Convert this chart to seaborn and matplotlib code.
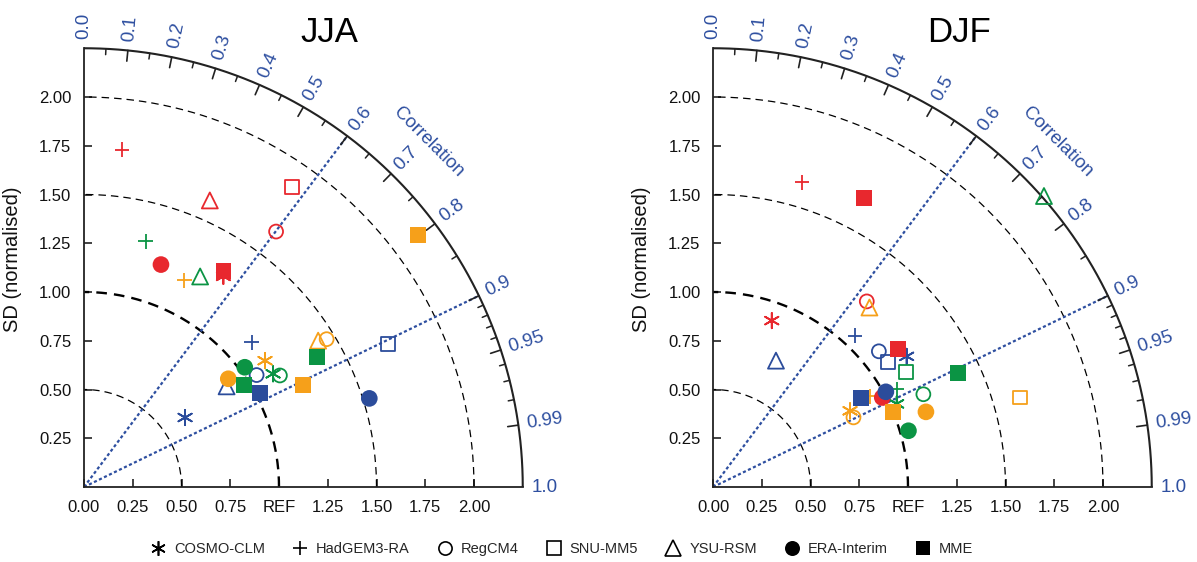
import numpy as np
import pandas as pd
import matplotlib
matplotlib.use("Agg")
import matplotlib.pyplot as plt
import seaborn as sns
from matplotlib.lines import Line2D

# ---------------- data ----------------
models = ["COSMO-CLM", "HadGEM3-RA", "RegCM4", "SNU-MM5", "YSU-RSM", "ERA-Interim", "MME"]
group_colors = {"red": "#E8282E", "green": "#0B9444", "blue": "#2B4C9B", "orange": "#F6A01A"}

# JJA panel: normalised SD and correlation of each marker
jja_model = ["HadGEM3-RA", "YSU-RSM", "SNU-MM5", "RegCM4", "ERA-Interim", "COSMO-CLM", "MME",
             "HadGEM3-RA", "YSU-RSM", "ERA-Interim", "COSMO-CLM", "RegCM4", "MME", "MME",
             "HadGEM3-RA", "MME", "COSMO-CLM", "ERA-Interim", "YSU-RSM", "RegCM4", "MME",
             "HadGEM3-RA", "RegCM4", "YSU-RSM", "MME", "SNU-MM5", "ERA-Interim", "COSMO-CLM"]
jja_group = ["red"] * 7 + ["green"] * 7 + ["orange"] * 7 + ["blue"] * 7
jja_sd = [1.741, 1.605, 1.872, 1.639, 1.207, 1.295, 1.320,
          1.299, 1.233, 1.028, 1.130, 1.156, 0.973, 1.368,
          1.179, 2.146, 1.132, 0.925, 1.416, 1.457, 1.237,
          1.136, 1.055, 0.895, 1.023, 1.724, 1.532, 0.629]
jja_corr = [0.112, 0.402, 0.569, 0.601, 0.327, 0.552, 0.542,
            0.243, 0.483, 0.802, 0.858, 0.869, 0.843, 0.874,
            0.437, 0.799, 0.820, 0.800, 0.848, 0.854, 0.906,
            0.757, 0.839, 0.817, 0.882, 0.905, 0.955, 0.824]

# DJF panel
djf_model = ["HadGEM3-RA", "MME", "RegCM4", "COSMO-CLM", "MME", "ERA-Interim",
             "YSU-RSM", "HadGEM3-RA", "MME", "ERA-Interim", "COSMO-CLM", "RegCM4", "SNU-MM5",
             "SNU-MM5", "MME", "HadGEM3-RA", "COSMO-CLM", "RegCM4", "ERA-Interim", "YSU-RSM",
             "HadGEM3-RA", "YSU-RSM", "RegCM4", "COSMO-CLM", "SNU-MM5", "ERA-Interim", "MME"]
djf_group = ["red"] * 6 + ["orange"] * 7 + ["green"] * 7 + ["blue"] * 7
djf_sd = [1.627, 1.673, 1.236, 0.905, 1.182, 0.982,
          1.221, 0.930, 0.999, 1.158, 0.804, 0.804, 1.640,
          1.151, 1.385, 1.068, 1.034, 1.179, 1.043, 2.260,
          1.064, 0.724, 1.099, 1.198, 1.103, 1.012, 0.885]
djf_corr = [0.280, 0.464, 0.638, 0.333, 0.801, 0.884,
            0.657, 0.866, 0.922, 0.943, 0.874, 0.896, 0.960,
            0.858, 0.906, 0.882, 0.911, 0.915, 0.961, 0.751,
            0.684, 0.446, 0.774, 0.829, 0.815, 0.876, 0.858]

panel_titles = ["JJA", "DJF"]
corr_major = [0.0, 0.1, 0.2, 0.3, 0.4, 0.5, 0.6, 0.7, 0.8, 0.9, 0.95, 0.99, 1.0]
corr_major_labels = ["0.0", "0.1", "0.2", "0.3", "0.4", "0.5", "0.6", "0.7", "0.8", "0.9", "0.95", "0.99", "1.0"]
corr_minor = [0.05, 0.15, 0.25, 0.35, 0.45, 0.55, 0.65, 0.75, 0.85, 0.91, 0.92, 0.93, 0.94, 0.96, 0.97, 0.98]
corr_lines = [0.6, 0.9]
sd_arcs = [0.5, 1.5, 2.0]
ref_sd = 1.0
sd_max = 2.25
x_ticks = [0.0, 0.25, 0.5, 0.75, 1.0, 1.25, 1.5, 1.75, 2.0]
x_tick_labels = ["0.00", "0.25", "0.50", "0.75", "REF", "1.25", "1.50", "1.75", "2.00"]
y_ticks = [0.25, 0.5, 0.75, 1.0, 1.25, 1.5, 1.75, 2.0]
y_tick_labels = ["0.25", "0.50", "0.75", "1.00", "1.25", "1.50", "1.75", "2.00"]

# ---------------- style ----------------
marker_map = {"COSMO-CLM": (6, 2, 0), "HadGEM3-RA": "+", "RegCM4": "o", "SNU-MM5": "s",
              "YSU-RSM": "^", "ERA-Interim": "o", "MME": "s"}
size_map = {"COSMO-CLM": 11.0, "HadGEM3-RA": 10.5, "RegCM4": 10.0, "SNU-MM5": 10.0,
            "YSU-RSM": 11.5, "ERA-Interim": 12.0, "MME": 11.5}
open_models = {"RegCM4", "SNU-MM5", "YSU-RSM"}
line_models = {"COSMO-CLM", "HadGEM3-RA"}
label_blue = "#2E4FA0"

sns.set_theme(style="white")
plt.rcParams["font.family"] = ["Liberation Sans", "DejaVu Sans"]

W, H = 1197, 562
fig = plt.figure(figsize=(W / 100, H / 100), dpi=100)
scale = 195.0
xmax, ymax = 2.7, 2.45


def make_df(model, group, sd, corr):
    df = pd.DataFrame({"model": model, "group": group, "sd": sd, "corr": corr})
    df["x"] = df["sd"] * df["corr"]
    df["y"] = df["sd"] * np.sqrt(1 - df["corr"] ** 2)
    return df


panels = [make_df(jja_model, jja_group, jja_sd, jja_corr),
          make_df(djf_model, djf_group, djf_sd, djf_corr)]
origins_px = [84, 713]

for i, df in enumerate(panels):
    ax = fig.add_axes([origins_px[i] / W, 75 / H, xmax * scale / W, ymax * scale / H])
    ax.set_xlim(0, xmax)
    ax.set_ylim(0, ymax)
    ax.patch.set_alpha(0)
    for s in ["top", "right"]:
        ax.spines[s].set_visible(False)
    for s in ["left", "bottom"]:
        ax.spines[s].set_bounds(0, sd_max)
        ax.spines[s].set_linewidth(1.3)
        ax.spines[s].set_color("#222222")
    ax.set_xticks(x_ticks)
    ax.set_xticklabels(x_tick_labels)
    ax.set_yticks(y_ticks)
    ax.set_yticklabels(y_tick_labels)
    ax.tick_params(axis="both", direction="in", length=6, width=1.2, color="#222222",
                   labelsize=12, pad=9, labelcolor="#111111", bottom=True, left=True)
    ax.grid(False)

    th = np.linspace(0, np.pi / 2, 300)
    # SD arcs
    for r in sd_arcs:
        ax.plot(r * np.cos(th), r * np.sin(th), color="black", lw=0.9, dashes=(6, 4), zorder=1)
    ax.plot(ref_sd * np.cos(th), ref_sd * np.sin(th), color="black", lw=1.7, dashes=(4.5, 3), zorder=1)
    # outer arc
    ax.plot(sd_max * np.cos(th), sd_max * np.sin(th), color="#222222", lw=1.5, zorder=2,
            solid_capstyle="butt")
    # correlation lines
    for c in corr_lines:
        t = np.arccos(c)
        ax.plot([0, sd_max * np.cos(t)], [0, sd_max * np.sin(t)], color=label_blue,
                lw=1.6, dashes=(1.4, 1.1), zorder=1)
    # correlation ticks and labels
    for c, lab in zip(corr_major, corr_major_labels):
        t = np.arccos(c)
        if 0 < c < 1:
            ax.plot([sd_max * np.cos(t), (sd_max - 0.055) * np.cos(t)],
                    [sd_max * np.sin(t), (sd_max - 0.055) * np.sin(t)], color="#222222", lw=1.2)
        rl = sd_max + 0.045
        ax.text(rl * np.cos(t), rl * np.sin(t), lab, rotation=np.degrees(t), rotation_mode="anchor",
                ha="left", va="center", color=label_blue, fontsize=13.5, clip_on=False)
    for c in corr_minor:
        t = np.arccos(c)
        ax.plot([sd_max * np.cos(t), (sd_max - 0.03) * np.cos(t)],
                [sd_max * np.sin(t), (sd_max - 0.03) * np.sin(t)], color="#222222", lw=1.1)
    ta = np.radians(45)
    ax.text(2.50 * np.cos(ta), 2.50 * np.sin(ta), "Correlation", rotation=-45, ha="center",
            va="center", rotation_mode="anchor", color=label_blue, fontsize=13.5, clip_on=False)

    # markers
    for m in models:
        sub = df[df["model"] == m]
        if sub.empty:
            continue
        ms = size_map[m]
        kw = dict(data=sub, x="x", y="y", hue="group", palette=group_colors, marker=marker_map[m],
                  s=ms ** 2, ax=ax, legend=False, zorder=5, clip_on=False)
        if m in line_models:
            kw["linewidth"] = 1.3
        elif m in open_models:
            kw["linewidth"] = 1.3
        else:
            kw["linewidth"] = 0
            kw["edgecolor"] = "none"
        sns.scatterplot(**kw)
        coll = ax.collections[-1]
        if m in open_models:
            fc = coll.get_facecolors()
            coll.set_edgecolors(fc)
            coll.set_facecolors("none")
            coll.set_linewidths(1.3)

    ax.set_xlabel("")
    ax.set_ylabel("SD (normalised)", fontsize=14.5, color="#111111")
    ax.yaxis.set_label_coords(-62 / (xmax * scale), 1.17 / ymax)
    ax.text(1.26, 2.33, panel_titles[i], fontsize=25, ha="center", va="center", color="black",
            clip_on=False)

# legend
handles = []
for m in models:
    if m in open_models:
        h = Line2D([], [], marker=marker_map[m], linestyle="none", markerfacecolor="none",
                   markeredgecolor="black", markeredgewidth=1.2, markersize=size_map[m] * 0.95)
    elif m in line_models:
        h = Line2D([], [], marker=marker_map[m], linestyle="none", color="black",
                   markeredgewidth=1.2, markersize=size_map[m] * 0.95)
    else:
        h = Line2D([], [], marker=marker_map[m], linestyle="none", color="black",
                   markeredgewidth=0, markersize=size_map[m] * 0.9)
    handles.append(h)
fig.legend(handles, models, ncol=7, loc="center", bbox_to_anchor=(562 / W, 1 - 549 / H),
           frameon=False, fontsize=10.5, handlelength=1.0, handletextpad=0.6, columnspacing=1.9)

fig.savefig("out.png", dpi=100)
